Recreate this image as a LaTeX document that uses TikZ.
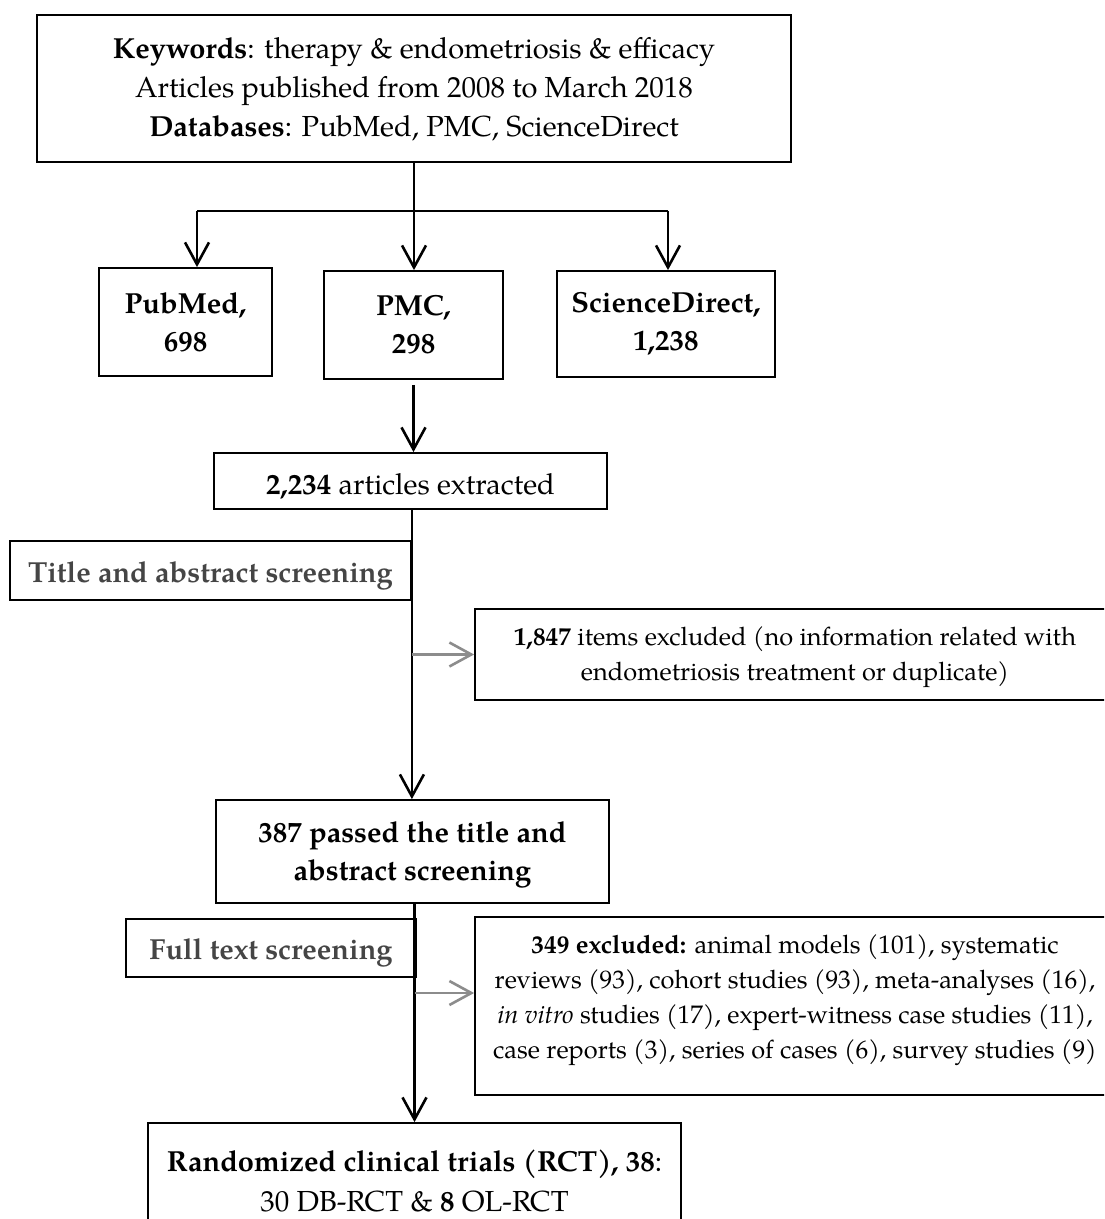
\documentclass[tikz,border=0pt]{standalone}
\usepackage{fontspec}
\setmainfont{TeX Gyre Pagella}
\usetikzlibrary{arrows.meta}
\definecolor{txtgray}{HTML}{454545}
\definecolor{arrgray}{HTML}{8C8C8C}
\newcommand\lowerby[1]{\rule{0pt}{#1}}
\tikzset{
  box/.style={draw=black, line width=0.9pt, inner sep=0pt, align=center,
    font=\fontsize{14.5}{19.5}\selectfont},
  smallbox/.style={box, font=\fontsize{12.7}{17.5}\selectfont},
  plaintxt/.style={inner sep=0pt, align=center, font=\fontsize{12.7}{17.5}\selectfont},
  screenbox/.style={box, text=txtgray, font=\fontsize{14.5}{19.5}\selectfont\bfseries},
  trunk/.style={line width=1.3pt},
  conn/.style={line width=1.3pt, -{Straight Barb[length=11pt,width=12pt]}},
  garr/.style={line width=1.3pt, draw=arrgray, -{Straight Barb[length=11pt,width=12pt]}}
}
\begin{document}
\begin{tikzpicture}[x=0.5pt,y=-0.5pt]
\useasboundingbox (0,0) rectangle (1104,1219);
\clip (0,0) rectangle (1104,1219);
% boxes
\node[box, minimum width=377pt, minimum height=73.5pt] (top) at (414,88.5)
  {\lowerby{11.6pt}\textbf{Keywords}: therapy \& endometriosis \& efficacy\\
   Articles published from 2008 to March 2018\\
   \textbf{Databases}: PubMed, PMC, ScienceDirect};
\node[box, font=\fontsize{14.5}{19}\selectfont\bfseries, minimum width=86.5pt, minimum height=54pt] (pub) at (185.5,322) {PubMed,\\698};
\node[box, font=\fontsize{14.5}{19}\selectfont\bfseries, minimum width=89.5pt, minimum height=54pt] (pmc) at (413.5,325) {PMC,\\298};
\node[box, font=\fontsize{14.5}{19}\selectfont\bfseries, minimum width=109pt, minimum height=53pt] (sd) at (666,324) {ScienceDirect,\\1,238};
\node[box, minimum width=196.5pt, minimum height=28pt] (ext) at (410.5,481) {\lowerby{15.6pt}\textbf{2,234} articles extracted};
\node[screenbox, minimum width=200.5pt, minimum height=29.5pt] (tas) at (210.5,570.5) {\lowerby{15.4pt}Title and abstract screening};
\node[smallbox, minimum width=320pt, minimum height=45.5pt] (ex1) at (795,654.5)
  {\lowerby{12.5pt}\textbf{1,847} items excluded (no information related with\\
   endometriosis treatment or duplicate)};
\node[box, font=\fontsize{14.5}{19}\selectfont\bfseries, minimum width=196.5pt, minimum height=51.5pt] (p387) at (412.5,851.5)
  {\lowerby{13.6pt}387 passed the title and\\abstract screening};
\node[screenbox, minimum width=145pt, minimum height=29pt] (fts) at (271,948) {\lowerby{15.6pt}Full text screening};
\node[box, minimum width=320pt, minimum height=89pt] (ex2) at (795,1006) {};
\node[plaintxt] (ex2t) at (795,1000.5)
  {\textbf{349 excluded:} animal models (101), systematic\\
   reviews (93), cohort studies (93), meta-analyses (16),\\
   \textit{in vitro} studies (17), expert-witness case studies (11),\\
   case reports (3), series of cases (6), survey studies (9)};
\node[box, font=\fontsize{14.5}{20}\selectfont, minimum width=266.5pt, minimum height=52pt] (rct) at (414.5,1175)
  {\lowerby{16.4pt}\textbf{Randomized clinical trials (RCT), 38}:\\30 DB-RCT \& \textbf{8} OL-RCT};
% connectors
\coordinate (bl) at (197,211);
\coordinate (br) at (668,211);
\coordinate (g2) at ([yshift=6.5pt]ex2.west);
\draw[conn] (top.south) -- (top.south |- pmc.north);
\draw[trunk] (bl) -- (br);
\draw[conn] (bl) -- (bl |- pub.north);
\draw[conn] (br) -- (br |- sd.north);
\draw[conn] ([yshift=-2.5pt]pmc.south) -- (pmc.south |- ext.north);
\draw[conn] (tas.east |- ext.south) -- (tas.east |- p387.north);
\draw[conn] (p387.south -| rct.north) -- (rct.north);
\draw[garr] (tas.east |- ex1.west) -- (ex1.west);
\draw[garr] (g2 -| rct.north) -- (g2);
\end{tikzpicture}
\end{document}
